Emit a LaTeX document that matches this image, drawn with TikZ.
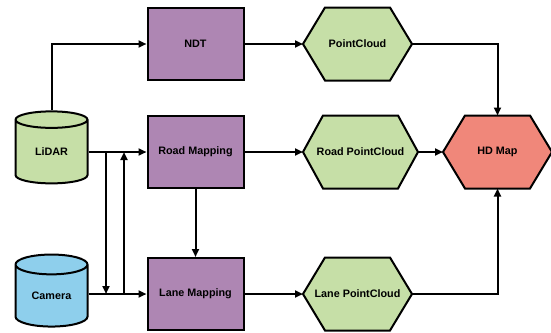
\documentclass[tikz,border=0pt]{standalone}
\usepackage{fontspec}
\setmainfont{Liberation Sans}
\usetikzlibrary{shapes.geometric,arrows.meta,backgrounds}
\definecolor{purp}{HTML}{AE86B3}
\definecolor{grn}{HTML}{C6DFA7}
\definecolor{redc}{HTML}{F0877A}
\definecolor{blu}{HTML}{8ECFEC}
\tikzset{
  base/.style={draw=black, line width=2pt, font=\bfseries\fontsize{10.8}{12}\selectfont, inner sep=0pt},
  box/.style={base, rectangle, fill=purp, minimum width=96pt, minimum height=72pt},
  hexnode/.style={rectangle, draw=none, inner sep=0pt, outer sep=0pt, font=\bfseries\fontsize{10.8}{12}\selectfont, minimum width=109pt, minimum height=73pt},
  hexline/.style={draw=black, line width=2pt, line join=miter},
  cyl/.style={base, cylinder, shape border rotate=90, aspect=0.5, minimum width=72pt, minimum height=72pt},
  arr/.style={line width=2pt, -{Triangle[length=8pt,width=7pt]}}
}
\newcommand{\hexdraw}[3]{%
  \draw[hexline, fill=#2] (#1.west) -- ([xshift=#3pt]#1.north west) -- ([xshift=-#3pt]#1.north east) -- (#1.east) -- ([xshift=-#3pt]#1.south east) -- ([xshift=#3pt]#1.south west) -- cycle;}
\begin{document}
\begin{tikzpicture}[x=1pt,y=-1pt]
\useasboundingbox (0,0) rectangle (551,332);
\node[cyl, fill=grn] (lidar) at (51.5,152) {LiDAR};
\node[cyl, fill=blu] (camera) at (51.5,296) {Camera};
\node[box] (ndt) at (195.5,44) {NDT};
\node[box] (road) at (195.5,152) {Road Mapping};
\node[box] (lane) at (195.5,294) {Lane Mapping};
\node[hexnode] (pc) at (357.5,44) {PointCloud};
\node[hexnode, minimum width=115pt] (roadpc) at (360.5,152) {Road PointCloud};
\node[hexnode] (lanepc) at (357.5,294) {Lane PointCloud};
\node[hexnode] (hd) at (497.5,152) {HD Map};
\begin{scope}[on background layer]
\hexdraw{pc}{grn}{22}
\hexdraw{roadpc}{grn}{20}
\hexdraw{lanepc}{grn}{22}
\hexdraw{hd}{redc}{22}
\end{scope}
\coordinate (d1) at (106,152);
\coordinate (d2) at (106,294);
\coordinate (u1) at (124,294);
\coordinate (u2) at (124,152);
\draw[arr] (lidar.north) |- (ndt.west);
\draw[arr] (ndt.east) -- (pc.west);
\draw[arr] (pc.east) -| (hd.north);
\draw[arr] (lidar.east |- road.west) -- (road.west);
\draw[arr] (road.east) -- (roadpc.west);
\draw[arr] (roadpc.east) -- (hd.west);
\draw[arr] (road.south) -- (lane.north);
\draw[arr] (camera.east |- lane.west) -- (lane.west);
\draw[arr] (lanepc.east) -| (hd.south);
\draw[arr] (lane.east) -- (lanepc.west);
\draw[arr] (d1) -- (d2);
\draw[arr] (u1) -- (u2);
\end{tikzpicture}
\end{document}
